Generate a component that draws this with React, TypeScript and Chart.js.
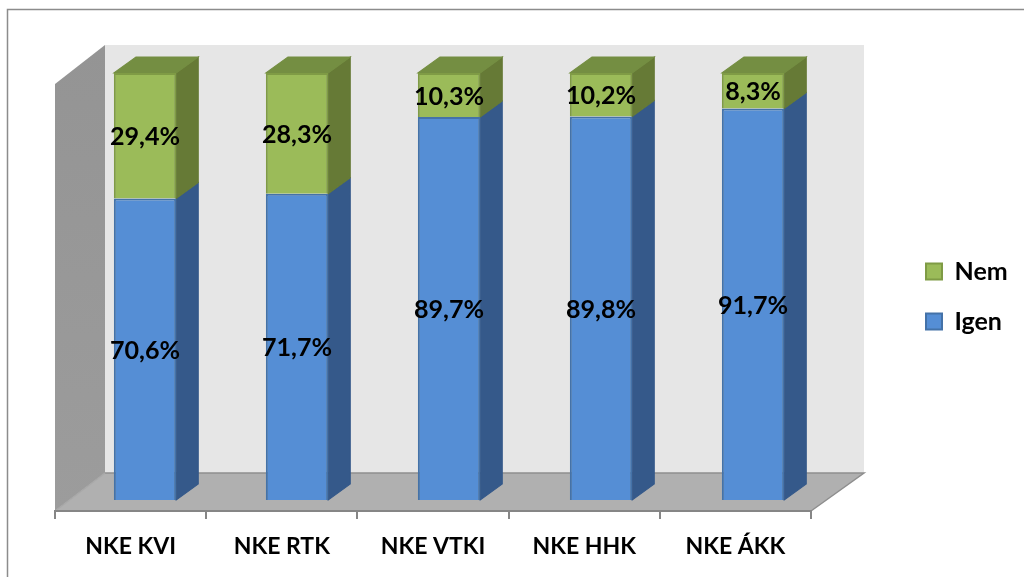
import React, { useEffect, useRef } from "react";
import { Chart, registerables } from "chart.js";

Chart.register(...registerables);

const categories = ["NKE KVI", "NKE RTK", "NKE VTKI", "NKE HHK", "NKE ÁKK"];
const igenValues = [70.6, 71.7, 89.7, 89.8, 91.7];
const nemValues = [29.4, 28.3, 10.3, 10.2, 8.3];
const FONT = "Lato, 'Noto Sans', sans-serif";

// depth of a bar and its offset from the front plane of the floor
const BAR_DX = 22;
const BAR_DY = 16;
const SHIFT_X = 14;
const SHIFT_Y = -11;
const SPREAD = 1.0053;

const sideColors = ["#35598A", "#667A36"];
const topColor = "#748E42";

function poly(ctx: CanvasRenderingContext2D, pts: number[][], fill: any, stroke?: string, lw = 1) {
  ctx.beginPath();
  pts.forEach((p, i) => (i ? ctx.lineTo(p[0], p[1]) : ctx.moveTo(p[0], p[1])));
  ctx.closePath();
  ctx.fillStyle = fill;
  ctx.fill();
  if (stroke) {
    ctx.strokeStyle = stroke;
    ctx.lineWidth = lw;
    ctx.stroke();
  }
}

const scene3d = {
  id: "scene3d",
  afterLayout(chart: any) {
    const lg = chart.legend;
    if (!lg) return;
    const pad = lg.options.labels.padding;
    const h = 320;
    lg.left = 926 - pad;
    lg.right = lg.left + 97 + pad * 2;
    lg.top = 259 - pad;
    lg.bottom = lg.top + h;
    lg.width = lg.right - lg.left;
    lg.height = h;
  },
  beforeDraw(chart: any) {
    const { ctx, chartArea: a } = chart;
    const b = a.bottom;
    const l = a.left;
    const r = a.right;
    const t = a.top;
    ctx.save();
    // outer frame
    ctx.strokeStyle = "#8C8C8C";
    ctx.lineWidth = 1.5;
    ctx.beginPath();
    ctx.moveTo(7.5, 577);
    ctx.lineTo(7.5, 9.5);
    ctx.lineTo(1024, 9.5);
    ctx.stroke();
    // back wall
    ctx.fillStyle = "#E6E6E6";
    ctx.fillRect(l + 50, t - 39, r + 53 - (l + 50), b - 38 - (t - 39));
    // left wall
    const g = ctx.createLinearGradient(0, t - 39, 0, b);
    g.addColorStop(0, "#949494");
    g.addColorStop(1, "#9C9C9C");
    poly(ctx, [[l, t], [l + 50, t - 39], [l + 50, b - 38], [l, b]], g);
    // floor
    poly(ctx, [[l, b], [l + 50, b - 38], [r + 53, b - 38], [r, b]], "#B0B0B0");
    ctx.strokeStyle = "#8E8E8E";
    ctx.lineWidth = 1.5;
    ctx.beginPath();
    ctx.moveTo(r, b);
    ctx.lineTo(r + 53, b - 38);
    ctx.lineTo(l + 50, b - 38);
    ctx.stroke();
    ctx.strokeStyle = "#A8A8A8";
    ctx.beginPath();
    ctx.moveTo(l, b);
    ctx.lineTo(l + 50, b - 38);
    ctx.stroke();
    ctx.restore();
  },
  beforeDatasetsDraw(chart: any) {
    const { ctx, chartArea } = chart;
    ctx.save();
    ctx.translate(chartArea.left + SHIFT_X, SHIFT_Y);
    ctx.scale(SPREAD, 1);
    ctx.translate(-chartArea.left, 0);
    chart.data.datasets.forEach((_: any, di: number) => {
      chart.getDatasetMeta(di).data.forEach((el: any) => {
        const p = el.getProps(["x", "y", "base", "width"], true);
        const right = p.x + p.width / 2;
        const left = p.x - p.width / 2;
        poly(
          ctx,
          [[right, p.y], [right + BAR_DX, p.y - BAR_DY], [right + BAR_DX, p.base - BAR_DY], [right, p.base]],
          sideColors[di],
          sideColors[di],
          1
        );
        if (di === chart.data.datasets.length - 1) {
          poly(
            ctx,
            [[left, p.y], [left + BAR_DX, p.y - BAR_DY], [right + BAR_DX, p.y - BAR_DY], [right, p.y]],
            topColor,
            topColor,
            1
          );
        }
      });
    });
  },
  afterDatasetsDraw(chart: any) {
    const { ctx } = chart;
    ctx.textAlign = "center";
    ctx.textBaseline = "middle";
    ctx.fillStyle = "#000000";
    ctx.font = `bold 25px ${FONT}`;
    chart.data.datasets.forEach((ds: any, di: number) => {
      chart.getDatasetMeta(di).data.forEach((el: any, i: number) => {
        const p = el.getProps(["x", "y", "base"], true);
        const text = ds.data[i].toFixed(1).replace(".", ",") + "%";
        ctx.fillText(text, p.x, (p.y + p.base) / 2 + 1.5);
      });
    });
    ctx.restore();
  },
};

export default function App() {
  const ref = useRef<HTMLCanvasElement>(null);
  useEffect(() => {
    const chart = new Chart(ref.current as HTMLCanvasElement, {
      type: "bar",
      plugins: [scene3d],
      data: {
        labels: categories,
        datasets: [
          {
            label: "Igen",
            data: igenValues,
            backgroundColor: "#558ED5",
            borderColor: "#4472A8",
            borderWidth: 2,
            clip: false,
          },
          {
            label: "Nem",
            data: nemValues,
            backgroundColor: "#9BBB59",
            borderColor: "#7F9B45",
            borderWidth: 2,
            clip: false,
          },
        ] as any,
      },
      options: {
        responsive: false,
        animation: false,
        layout: { padding: { left: 55, top: 84, right: 213, bottom: 2.4 } },
        datasets: { bar: { categoryPercentage: 1, barPercentage: 0.41 } },
        scales: {
          x: {
            stacked: true,
            offset: true,
            border: { display: true, color: "#868686", width: 2 },
            grid: { drawOnChartArea: false, drawTicks: true, tickLength: 8, tickColor: "#868686", lineWidth: 2, offset: true },
            ticks: { color: "#000000", autoSkip: false, maxRotation: 0, padding: 14, font: { family: FONT, size: 23, weight: "bold" } },
          },
          y: { stacked: true, display: false, min: 0, max: 100 },
        },
        plugins: {
          title: { display: false },
          tooltip: { enabled: false },
          legend: {
            display: true,
            position: "chartArea",
            align: "start",
            labels: {
              boxWidth: 16,
              boxHeight: 16,
              padding: 25,
              color: "#000000",
              font: { family: FONT, size: 25, weight: "bold" },
              sort: (a: any, b: any) => b.datasetIndex - a.datasetIndex,
            },
          },
        },
      } as any,
    });
    return () => chart.destroy();
  }, []);
  return (
    <canvas
      ref={ref}
      width={1024}
      height={577}
      style={{ position: "fixed", left: 0, top: 0, width: 1024, height: 577, display: "block" }}
    />
  );
}
